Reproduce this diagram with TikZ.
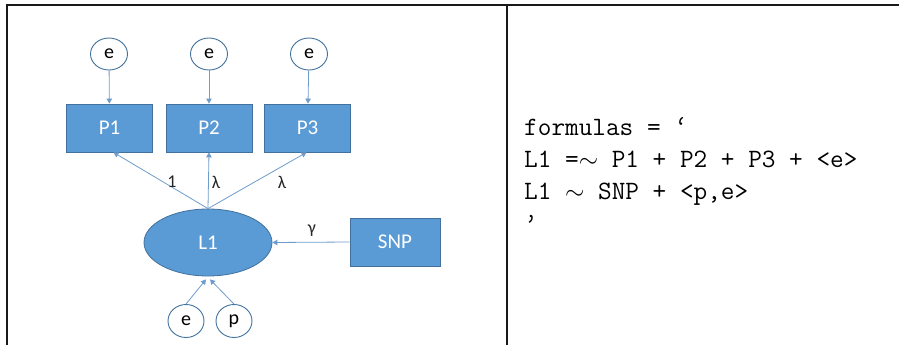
\documentclass[tikz,border=0pt]{standalone}
\usepackage{fontspec}
\newfontfamily\calfont{Carlito}
\usetikzlibrary{shapes.geometric,arrows.meta}
\definecolor{offblue}{HTML}{5B9BD5}
\definecolor{edgeblue}{HTML}{41719C}
\definecolor{arrowblue}{HTML}{6E9CCB}
\tikzset{
  obsbox/.style={rectangle, fill=offblue, draw=edgeblue, line width=0.8pt,
    minimum width=86pt, minimum height=48pt, inner sep=0pt,
    text=white, font=\calfont\fontsize{21}{25}\selectfont},
  errnode/.style={ellipse, fill=white, draw=edgeblue, line width=0.9pt,
    minimum width=37pt, minimum height=32pt, inner sep=0pt,
    font=\calfont\fontsize{20}{24}\selectfont},
  latnode/.style={ellipse, fill=offblue, draw=edgeblue, line width=0.8pt,
    minimum width=128pt, minimum height=67pt, inner sep=0pt,
    text=white, font=\calfont\fontsize{21}{25}\selectfont},
  conn/.style={draw=arrowblue, line width=0.8pt,
    -{Triangle[width=5.5pt,length=5pt]}},
  lbl/.style={inner sep=0pt, font=\calfont\fontsize{18}{21}\selectfont, text=black!85},
  codeline/.style={anchor=base west, inner sep=0pt,
    font=\ttfamily\fontsize{26.5}{32}\selectfont},
  frame/.style={draw=black!90, line width=1.1pt}
}
\begin{document}
\begin{tikzpicture}[x=1pt,y=-1pt]
\useasboundingbox (0,0) rectangle (899,345);
% table frame
\draw[frame] (7,345) -- (7,5) -- (899,5);
\draw[frame] (507,5) -- (507,345);
% nodes
\node[errnode] (e1) at (109,54) {e};
\node[errnode] (e2) at (209,54) {e};
\node[errnode] (e3) at (309,54) {e};
\node[obsbox] (P1) at (109.5,128) {P1};
\node[obsbox] (P2) at (209,128) {P2};
\node[obsbox] (P3) at (307.5,128) {P3};
\node[latnode] (L1) at (208,242.5) {L1};
\node[obsbox, minimum width=90pt] (SNP) at (395,242) {SNP};
\node[errnode, minimum width=36pt, minimum height=33pt] (eb) at (186,321) {e};
\node[errnode, minimum width=36pt, minimum height=33pt] (pb) at (234,321) {p};
% connectors
\draw[conn] (e1) -- (P1);
\draw[conn] (e2) -- (P2);
\draw[conn] (e3) -- (P3);
\draw[conn] (L1.north) -- ([xshift=4pt]P1.south);
\draw[conn] (L1.north) -- (P2.south);
\draw[conn] (L1.north) -- ([xshift=-1pt]P3.south);
\draw[conn] (SNP.west) -- (L1.east);
\draw[conn] (eb.north) -- ([xshift=-2pt,yshift=-3pt]L1.south);
\draw[conn] (pb.north) -- ([xshift=2pt,yshift=-3pt]L1.south);
% labels
\node[lbl] (lab1) at (172,182) {1};
\node[lbl] (lab2) at (216,182) {λ};
\node[lbl] (lab3) at (282,182) {λ};
\node[lbl] (lab4) at (312,231) {γ};
% code
\node[codeline] (c1) at (524,135) {formulas = ‘};
\node[codeline] (c2) at (524,167) {L1 =$\sim$ P1 + P2 + P3 + <e>};
\node[codeline] (c3) at (524,199) {L1 $\sim$ SNP + <p,e>};
\node[codeline] (c4) at (524,231) {’};
\end{tikzpicture}
\end{document}
